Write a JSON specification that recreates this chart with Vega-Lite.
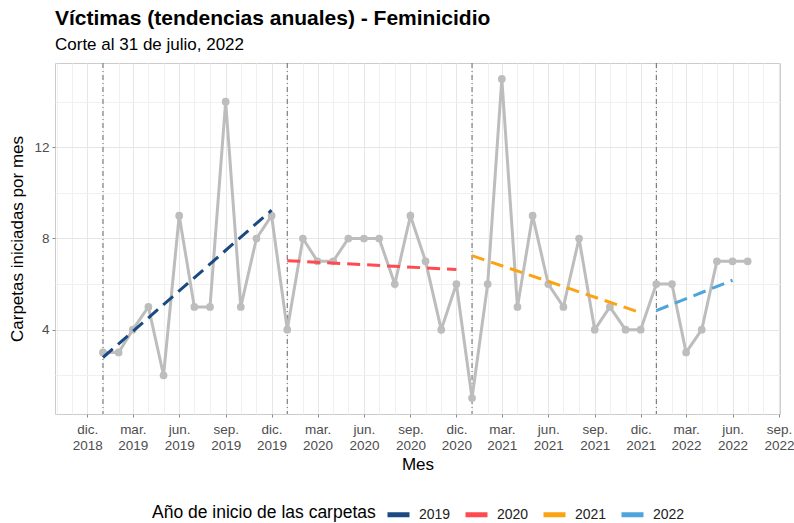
{
  "$schema": "https://vega.github.io/schema/vega-lite/v6.json",
  "width": 725,
  "height": 351,
  "autosize": {"type": "none"},
  "padding": {"left": 55, "top": 63, "right": 14, "bottom": 109},
  "background": "white",
  "title": {
    "text": "Víctimas (tendencias anuales) - Feminicidio",
    "subtitle": "Corte al 31 de julio, 2022",
    "anchor": "start",
    "frame": "group",
    "fontSize": 21,
    "fontWeight": "bold",
    "color": "#000000",
    "subtitleFontSize": 17,
    "subtitleColor": "#000000",
    "subtitlePadding": 8,
    "offset": 10
  },
  "datasets": {
    "victimas": [
      {"date": "2019-01-01", "value": 3, "year": "2019"},
      {"date": "2019-02-01", "value": 3, "year": "2019"},
      {"date": "2019-03-01", "value": 4, "year": "2019"},
      {"date": "2019-04-01", "value": 5, "year": "2019"},
      {"date": "2019-05-01", "value": 2, "year": "2019"},
      {"date": "2019-06-01", "value": 9, "year": "2019"},
      {"date": "2019-07-01", "value": 5, "year": "2019"},
      {"date": "2019-08-01", "value": 5, "year": "2019"},
      {"date": "2019-09-01", "value": 14, "year": "2019"},
      {"date": "2019-10-01", "value": 5, "year": "2019"},
      {"date": "2019-11-01", "value": 8, "year": "2019"},
      {"date": "2019-12-01", "value": 9, "year": "2019"},
      {"date": "2020-01-01", "value": 4, "year": "2020"},
      {"date": "2020-02-01", "value": 8, "year": "2020"},
      {"date": "2020-03-01", "value": 7, "year": "2020"},
      {"date": "2020-04-01", "value": 7, "year": "2020"},
      {"date": "2020-05-01", "value": 8, "year": "2020"},
      {"date": "2020-06-01", "value": 8, "year": "2020"},
      {"date": "2020-07-01", "value": 8, "year": "2020"},
      {"date": "2020-08-01", "value": 6, "year": "2020"},
      {"date": "2020-09-01", "value": 9, "year": "2020"},
      {"date": "2020-10-01", "value": 7, "year": "2020"},
      {"date": "2020-11-01", "value": 4, "year": "2020"},
      {"date": "2020-12-01", "value": 6, "year": "2020"},
      {"date": "2021-01-01", "value": 1, "year": "2021"},
      {"date": "2021-02-01", "value": 6, "year": "2021"},
      {"date": "2021-03-01", "value": 15, "year": "2021"},
      {"date": "2021-04-01", "value": 5, "year": "2021"},
      {"date": "2021-05-01", "value": 9, "year": "2021"},
      {"date": "2021-06-01", "value": 6, "year": "2021"},
      {"date": "2021-07-01", "value": 5, "year": "2021"},
      {"date": "2021-08-01", "value": 8, "year": "2021"},
      {"date": "2021-09-01", "value": 4, "year": "2021"},
      {"date": "2021-10-01", "value": 5, "year": "2021"},
      {"date": "2021-11-01", "value": 4, "year": "2021"},
      {"date": "2021-12-01", "value": 4, "year": "2021"},
      {"date": "2022-01-01", "value": 6, "year": "2022"},
      {"date": "2022-02-01", "value": 6, "year": "2022"},
      {"date": "2022-03-01", "value": 3, "year": "2022"},
      {"date": "2022-04-01", "value": 4, "year": "2022"},
      {"date": "2022-05-01", "value": 7, "year": "2022"},
      {"date": "2022-06-01", "value": 7, "year": "2022"},
      {"date": "2022-07-01", "value": 7, "year": "2022"}
    ],
    "cortes": [
      {"date": "2019-01-01"},
      {"date": "2020-01-01"},
      {"date": "2021-01-01"},
      {"date": "2022-01-01"}
    ]
  },
  "layer": [
    {
      "data": {"name": "cortes", "format": {"parse": {"date": "date"}}},
      "mark": {"type": "rule", "color": "#666666", "strokeWidth": 1, "strokeDash": [5, 3, 1, 3]},
      "encoding": {
        "x": {
          "field": "date",
          "type": "temporal",
          "scale": {
            "type": "utc",
            "domain": [
              {"year": 2018, "month": 9, "date": 28, "utc": true},
              {"year": 2022, "month": 9, "date": 3, "utc": true}
            ]
          },
          "axis": {
            "title": "Mes",
            "tickCount": {"interval": "month", "step": 1},
            "labelExpr": "utcmonth(datum.value) % 3 == 2 ? [['ene.','feb.','mar.','abr.','may.','jun.','jul.','ago.','sep.','oct.','nov.','dic.'][utcmonth(datum.value)], '' + utcyear(datum.value)] : ''",
            "labelOverlap": false,
            "labelFlush": false,
            "labelAlign": "center",
            "labelBaseline": "top",
            "labelLineHeight": 16,
            "labelPadding": 5,
            "labelFontSize": 13.5,
            "labelColor": "#4d4d4d",
            "ticks": true,
            "tickSize": 3,
            "tickColor": {"condition": {"test": "utcmonth(datum.value) % 3 == 2", "value": "#888888"}, "value": "transparent"},
            "grid": true,
            "gridColor": {"condition": {"test": "utcmonth(datum.value) % 3 == 2", "value": "#e6e6e6"}, "value": "#f0f0f0"},
            "gridWidth": 1,
            "domain": false,
            "titleFontSize": 17,
            "titleFontWeight": "normal",
            "titleColor": "#000000",
            "titlePadding": 5
          }
        }
      }
    },
    {
      "data": {"name": "victimas", "format": {"parse": {"date": "date"}}},
      "mark": {"type": "line", "color": "#bdbdbd", "strokeWidth": 3},
      "encoding": {
        "x": {"field": "date", "type": "temporal", "scale": {"type": "utc"}},
        "y": {
          "field": "value",
          "type": "quantitative",
          "scale": {"domain": [0.3, 15.7], "nice": false, "zero": false},
          "axis": {
            "title": "Carpetas iniciadas por mes",
            "values": [2, 4, 6, 8, 10, 12, 14],
            "labelExpr": "datum.value % 4 == 0 ? datum.label : ''",
            "labelFontSize": 13.5,
            "labelColor": "#4d4d4d",
            "labelPadding": 3,
            "ticks": true,
            "tickSize": 3,
            "tickColor": {"condition": {"test": "datum.value % 4 == 0", "value": "#888888"}, "value": "transparent"},
            "grid": true,
            "gridColor": {"condition": {"test": "datum.value % 4 == 0", "value": "#e6e6e6"}, "value": "#f0f0f0"},
            "gridWidth": 1,
            "domain": false,
            "titleFontSize": 17,
            "titleFontWeight": "normal",
            "titleColor": "#000000",
            "titlePadding": 7
          }
        }
      }
    },
    {
      "data": {"name": "victimas", "format": {"parse": {"date": "date"}}},
      "mark": {"type": "point", "filled": true, "color": "#bdbdbd", "opacity": 1, "size": 60},
      "encoding": {
        "x": {"field": "date", "type": "temporal", "scale": {"type": "utc"}},
        "y": {"field": "value", "type": "quantitative"}
      }
    },
    {
      "data": {"name": "victimas", "format": {"parse": {"date": "date"}}},
      "transform": [
        {"filter": "utcyear(datum.date) < 2022 || utcmonth(datum.date) < 6"},
        {"regression": "value", "on": "date", "groupby": ["year"]}
      ],
      "mark": {"type": "line", "strokeWidth": 3, "strokeDash": [13, 7]},
      "encoding": {
        "x": {"field": "date", "type": "temporal", "scale": {"type": "utc"}},
        "y": {"field": "value", "type": "quantitative"},
        "color": {
          "field": "year",
          "type": "nominal",
          "scale": {
            "domain": ["2019", "2020", "2021", "2022"],
            "range": ["#1b4a82", "#ff4b4f", "#fca311", "#4ea5dc"]
          },
          "legend": {
            "title": "Año de inicio de las carpetas",
            "orient": "none",
            "legendX": 97,
            "legendY": 438,
            "direction": "horizontal",
            "titleOrient": "left",
            "titleLimit": 400,
            "titleFontSize": 17.5,
            "titleFontWeight": "normal",
            "titleColor": "#000000",
            "titleAnchor": "middle",
            "titleBaseline": "middle",
            "titlePadding": 9,
            "labelFontSize": 14,
            "labelColor": "#222222",
            "symbolType": "stroke",
            "symbolStrokeWidth": 5,
            "symbolSize": 484,
            "symbolDash": [],
            "symbolOpacity": 1,
            "columnPadding": 4,
            "labelOffset": 7
          }
        }
      }
    }
  ],
  "config": {
    "font": "Liberation Sans",
    "view": {"stroke": "#cccccc", "strokeWidth": 1}
  }
}
